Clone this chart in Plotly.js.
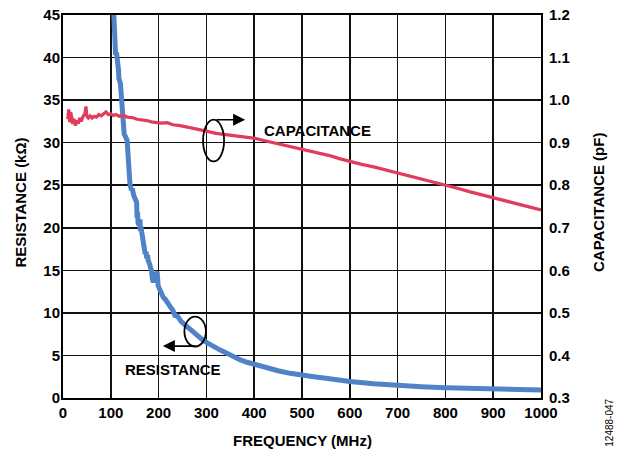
<!DOCTYPE html>
<html>
<head>
<meta charset="utf-8">
<script src="https://cdn.plot.ly/plotly-3.0.1.min.js"></script>
<style>html,body{margin:0;padding:0;background:#fff;}#chart{width:618px;height:451px;}</style>
</head>
<body>
<div id="chart"></div>
<script>
// Resistance (kΩ) vs frequency (MHz)
var resFreq = [106,108,109,110,112,113,115,116,117,119,120,121,122,123,124,125,127,128,130,132,134,135,136,137,138,140,143,145,148,150,152,154,155,156,157,159,161,162,163,165,166,167,168,169,170,172,174,175,177,178,180,182,183,185,187,189,191,194,197,199,202,206,210,214,218,222,226,230,234,240,247,255,262,268,272,278,285,293,301,315,330,343,356,370,385,406,427,450,475,500,525,550,575,600,650,700,750,800,850,900,950,1000];
var resVal  = [45.5,43.5,41.5,40.3,40.6,40.0,39.4,38.6,37.5,37.2,37.0,36.3,35.2,35.6,33.5,31.8,31.3,31.0,30.8,30.5,30.3,29.5,27.8,28.4,26.3,25.2,24.4,24.6,23.8,23.6,23.4,23.0,21.2,21.8,20.6,20.3,21.0,19.6,20.1,19.4,18.9,18.4,19.2,18.0,17.4,16.9,17.2,16.4,16.8,16.2,16.0,15.6,15.3,15.0,14.0,13.6,14.3,14.6,14.8,13.2,12.7,12.3,11.8,11.6,11.2,10.9,10.6,10.3,9.7,9.6,9.0,8.6,8.2,8.0,7.8,7.5,7.1,6.8,6.5,6.0,5.6,5.25,4.85,4.5,4.2,3.85,3.5,3.2,2.9,2.65,2.5,2.33,2.12,1.93,1.68,1.47,1.33,1.21,1.13,1.06,1.0,0.94];

// Capacitance (pF) vs frequency (MHz)
var capFreq = [10,12,14,16,18,20,23,26,29,32,35,38,42,46,48,50,53,57,61,65,70,75,80,85,90,95,100,105,110,118,125,135,145,155,165,175,185,195,205,218,230,245,260,275,287,300,320,340,360,380,402,420,440,460,480,500,520,540,560,580,600,625,650,675,700,725,750,775,800,825,850,875,900,925,950,975,1000];
var capVal  = [0.955,0.978,0.948,0.972,0.962,0.944,0.956,0.940,0.952,0.945,0.958,0.950,0.962,0.968,0.985,0.962,0.958,0.963,0.958,0.962,0.960,0.966,0.963,0.968,0.972,0.966,0.968,0.964,0.966,0.962,0.964,0.960,0.959,0.955,0.954,0.952,0.949,0.948,0.946,0.947,0.942,0.940,0.936,0.933,0.930,0.927,0.922,0.919,0.916,0.913,0.910,0.905,0.900,0.895,0.890,0.884,0.879,0.874,0.869,0.862,0.856,0.849,0.843,0.836,0.829,0.822,0.815,0.808,0.800,0.793,0.785,0.778,0.771,0.763,0.757,0.749,0.742];

var xTicks = [0,100,200,300,400,500,600,700,800,900,1000];
var yLeftTicks = [0,5,10,15,20,25,30,35,40,45];
var yRightTicks = [0.3,0.4,0.5,0.6,0.7,0.8,0.9,1.0,1.1,1.2];

var FONT = 'Liberation Sans, Arial, sans-serif';

var traces = [
  {x: resFreq, y: resVal, type: 'scatter', mode: 'lines', yaxis: 'y',
   line: {color: '#4f83c6', width: 5}, hoverinfo: 'skip'},
  {x: capFreq, y: capVal, type: 'scatter', mode: 'lines', yaxis: 'y2',
   line: {color: '#e23c5c', width: 3.2}, hoverinfo: 'skip'}
];

var layout = {
  width: 618, height: 451,
  margin: {l: 63, r: 77, t: 15, b: 53},
  paper_bgcolor: '#fff', plot_bgcolor: '#fff',
  showlegend: false,
  font: {family: FONT, color: '#000', size: 15},
  xaxis: {
    range: [0, 1000], tickvals: xTicks, ticktext: xTicks.map(String),
    showgrid: true, gridcolor: '#111', gridwidth: 1.5,
    showline: true, linecolor: '#000', linewidth: 2, mirror: true,
    ticks: '', zeroline: false, fixedrange: true,
    tickfont: {family: FONT, size: 15, weight: 'bold'}
  },
  yaxis: {
    range: [0, 45], tickvals: yLeftTicks, ticktext: yLeftTicks.map(String),
    showgrid: true, gridcolor: '#111', gridwidth: 1.5,
    showline: true, linecolor: '#000', linewidth: 2, mirror: true,
    ticks: '', zeroline: false, fixedrange: true,
    ticklabelstandoff: -2,
    tickfont: {family: FONT, size: 15, weight: 'bold'}
  },
  yaxis2: {
    range: [0.3, 1.2], overlaying: 'y', side: 'right',
    tickvals: yRightTicks, ticktext: yRightTicks.map(function(v){return v.toFixed(1);}),
    showgrid: false, showline: false, ticks: '', zeroline: false, fixedrange: true,
    ticklabelstandoff: 7,
    tickfont: {family: FONT, size: 15, weight: 'bold'}
  },
  shapes: [
    {type: 'circle', xref: 'x', yref: 'y', x0: 293, x1: 337, y0: 27.8, y1: 32.7,
     line: {color: '#000', width: 1.8}},
    {type: 'circle', xref: 'x', yref: 'y', x0: 254, x1: 299, y0: 6.05, y1: 9.55,
     line: {color: '#000', width: 1.8}}
  ],
  annotations: [
    {x: 381, y: 32.7, ax: 318, ay: 32.7, xref: 'x', yref: 'y', axref: 'x', ayref: 'y',
     text: '', showarrow: true, arrowhead: 2, arrowsize: 1.5, arrowwidth: 1.6, arrowcolor: '#000'},
    {x: 209, y: 6.1, ax: 280, ay: 6.1, xref: 'x', yref: 'y', axref: 'x', ayref: 'y',
     text: '', showarrow: true, arrowhead: 2, arrowsize: 1.5, arrowwidth: 1.6, arrowcolor: '#000'},
    {x: 532, y: 31.4, xref: 'x', yref: 'y', text: 'CAPACITANCE', showarrow: false,
     xanchor: 'center', yanchor: 'middle', font: {family: FONT, size: 15, weight: 'bold'}},
    {x: 230, y: 3.3, xref: 'x', yref: 'y', text: 'RESISTANCE', showarrow: false,
     xanchor: 'center', yanchor: 'middle', font: {family: FONT, size: 15, weight: 'bold'}},
    {x: 0.5, y: -0.11, xref: 'paper', yref: 'paper', text: 'FREQUENCY (MHz)', showarrow: false,
     xanchor: 'center', yanchor: 'middle', font: {family: FONT, size: 15, weight: 'bold'}},
    {x: -0.088, y: 0.51, xref: 'paper', yref: 'paper', text: 'RESISTANCE (kΩ)', showarrow: false,
     textangle: -90, xanchor: 'center', yanchor: 'middle', font: {family: FONT, size: 15, weight: 'bold'}},
    {x: 1.12, y: 0.51, xref: 'paper', yref: 'paper', text: 'CAPACITANCE (pF)', showarrow: false,
     textangle: -90, xanchor: 'center', yanchor: 'middle', font: {family: FONT, size: 15, weight: 'bold'}},
    {x: 1.144, y: -0.065, xref: 'paper', yref: 'paper', text: '12488-047', showarrow: false,
     textangle: -90, xanchor: 'center', yanchor: 'middle', font: {family: FONT, size: 10}}
  ]
};

Plotly.newPlot('chart', traces, layout, {staticPlot: true, displayModeBar: false});
</script>
</body>
</html>
